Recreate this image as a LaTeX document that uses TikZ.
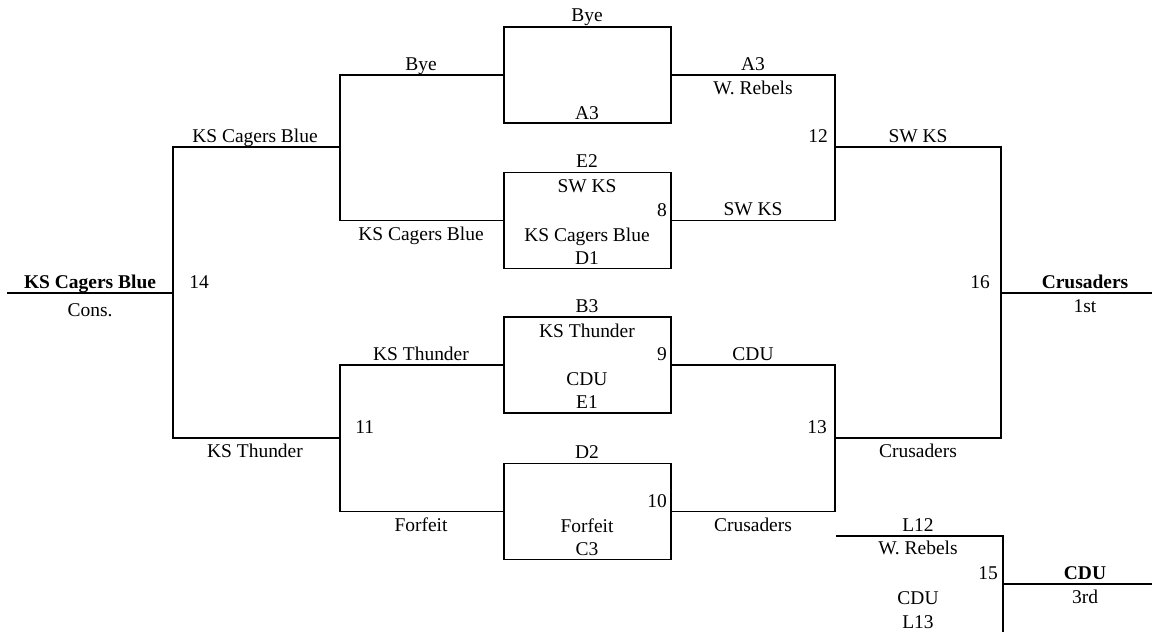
\documentclass[tikz,border=0pt]{standalone}
\usepackage{fontspec}
\setmainfont{Liberation Serif}
\tikzset{
  game/.style={draw, line width=0.8pt, minimum width=125.25pt, minimum height=72pt, inner sep=0pt},
  team/.style={anchor=base, inner sep=0pt},
  numr/.style={anchor=base east, inner sep=0pt},
  numl/.style={anchor=base west, inner sep=0pt},
  wire/.style={line width=0.8pt}
}
\begin{document}
\begin{tikzpicture}[x=0.75pt,y=-0.75pt,font=\fontsize{14.6}{17}\selectfont]
  \useasboundingbox (0,0) rectangle (1159,632);
  % first round games
  \node[game] (g1) at (587.5,75) {};
  \node[game] (g2) at (587.5,220.5) {};
  \node[game] (g3) at (587.5,365) {};
  \node[game] (g4) at (587.5,511.5) {};
  % bracket joints
  \coordinate (w12) at (340,147);
  \coordinate (w34) at (340,438);
  \coordinate (c14) at (173,293);
  \coordinate (cons) at (7,293);
  \coordinate (e12) at (835,147);
  \coordinate (e34) at (835,438);
  \coordinate (c16) at (1001,293);
  \coordinate (champ) at (1152,293);
  \coordinate (t15) at (836,536);
  \coordinate (b15) at (1003,632);
  \coordinate (c15) at (1003,584);
  \coordinate (third) at (1152,584);
  \draw[wire] (g1.west) -| (w12) |- (g2.west);
  \draw[wire] (g3.west) -| (w34) |- (g4.west);
  \draw[wire] (w12) -| (c14) |- (w34);
  \draw[wire] (c14) -- (cons);
  \draw[wire] (g1.east) -| (e12) |- (g2.east);
  \draw[wire] (g3.east) -| (e34) |- (g4.east);
  \draw[wire] (e12) -| (c16) |- (e34);
  \draw[wire] (c16) -- (champ);
  \draw[wire] (t15) -| (b15);
  \draw[wire] (c15) -- (third);
  % game 1
  \node[team] (g1a) at (587,21) {Bye};
  \node[team] (g1d) at (587,119) {A3};
  % game 2 (8)
  \node[team] (g2t) at (587,167) {E2};
  \node[team] (g2a) at (587,192) {SW KS};
  \node[numr] (n8) at (667,216) {8};
  \node[team] (g2b) at (587,241) {KS Cagers Blue};
  \node[team] (g2d) at (587,264) {D1};
  % game 3 (9)
  \node[team] (g3t) at (587,312) {B3};
  \node[team] (g3a) at (587,337) {KS Thunder};
  \node[numr] (n9) at (667,360) {9};
  \node[team] (g3b) at (587,385) {CDU};
  \node[team] (g3d) at (587,408) {E1};
  % game 4 (10)
  \node[team] (g4t) at (587,458) {D2};
  \node[numr] (n10) at (667,507) {10};
  \node[team] (g4b) at (587,532) {Forfeit};
  \node[team] (g4d) at (587,555) {C3};
  % left side
  \node[team] (l1) at (421,70) {Bye};
  \node[team] (l2) at (421,240) {KS Cagers Blue};
  \node[team] (l3) at (421,360) {KS Thunder};
  \node[team] (l4) at (421,531) {Forfeit};
  \node[numl] (n11) at (355,433) {11};
  \node[team] (l12) at (255,142) {KS Cagers Blue};
  \node[team] (l34) at (255,457) {KS Thunder};
  \node[numl] (n14) at (189,288) {14};
  \node[team, font=\fontsize{14.6}{17}\selectfont\bfseries] (cw) at (90,288) {KS Cagers Blue};
  \node[team] (cp) at (90,316) {Cons.};
  % right side
  \node[team] (r1a) at (753,70) {A3};
  \node[team] (r1b) at (753,94) {W. Rebels};
  \node[team] (r2) at (753,215) {SW KS};
  \node[team] (r3) at (753,360) {CDU};
  \node[team] (r4) at (753,531) {Crusaders};
  \node[numr] (n12) at (828,142) {12};
  \node[numr] (n13) at (827,433) {13};
  \node[team] (r12) at (918,142) {SW KS};
  \node[team] (r34) at (918,457) {Crusaders};
  \node[numr] (n16) at (990,288) {16};
  \node[team, font=\fontsize{14.6}{17}\selectfont\bfseries] (fw) at (1085,288) {Crusaders};
  \node[team] (fp) at (1085,312) {1st};
  % third place
  \node[team] (t1) at (918,531) {L12};
  \node[team] (t2) at (918,554) {W. Rebels};
  \node[numr] (n15) at (998,579) {15};
  \node[team] (t3) at (918,604) {CDU};
  \node[team] (t4) at (918,628) {L13};
  \node[team, font=\fontsize{14.6}{17}\selectfont\bfseries] (tw) at (1085,579) {CDU};
  \node[team] (tp) at (1085,603) {3rd};
\end{tikzpicture}
\end{document}
